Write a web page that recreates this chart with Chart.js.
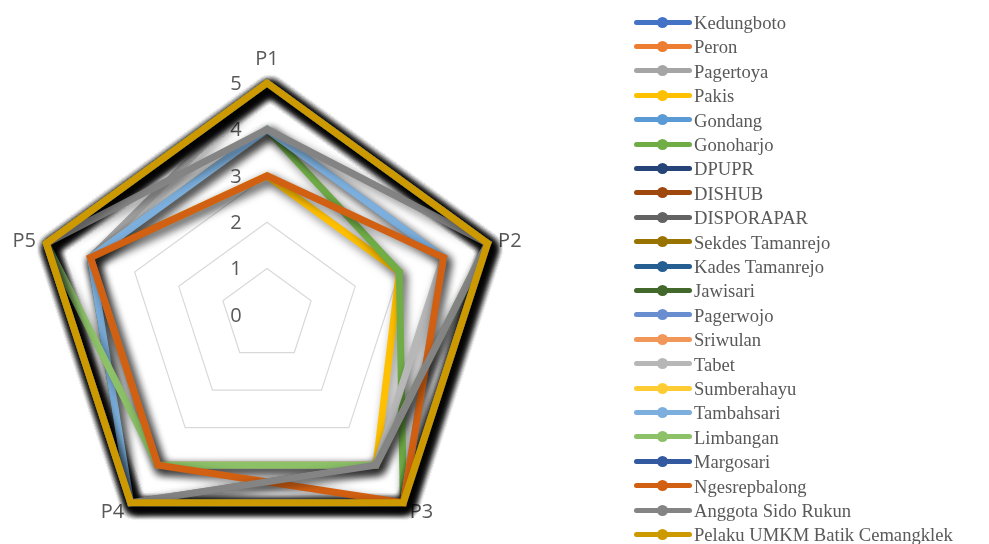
<!DOCTYPE html>
<html>
<head>
<meta charset="utf-8">
<script src="https://cdn.jsdelivr.net/npm/chart.js@4.4.1/dist/chart.umd.min.js"></script>
<style>
  html, body { margin: 0; padding: 0; width: 989px; height: 544px; overflow: hidden; background: #ffffff; }
  #radar { position: absolute; left: 0; top: 0; }
  #legend { position: absolute; left: 0; top: 0; width: 989px; height: 544px; }
  .item { position: absolute; left: 634px; height: 24px; white-space: nowrap;
          font-family: "Liberation Serif", "Times New Roman", serif; font-size: 18.6px; color: #595959; }
  .swatch { position: absolute; left: 0; top: 9.5px; width: 58px; height: 5px; border-radius: 3px; }
  .dot { position: absolute; left: 23px; top: 6.5px; width: 11px; height: 11px; border-radius: 50%; }
  .name { position: absolute; left: 60px; top: 1px; line-height: 24px; }
</style>
</head>
<body>
<canvas id="radar" width="989" height="640"></canvas>
<div id="legend"></div>
<script>
// Axes of the radar and the scale's tick labels
const categories = ['P1', 'P2', 'P3', 'P4', 'P5'];
const tickLabels = ['0', '1', '2', '3', '4', '5'];

// Scores per respondent group, in the order P1..P5
const kedungboto   = [5, 5, 5, 5, 5];
const peron        = [5, 5, 5, 5, 5];
const pagertoya    = [5, 5, 4, 5, 4];
const pakis        = [3, 3, 4, 4, 4];
const gondang      = [5, 5, 5, 5, 5];
const gonoharjo    = [4, 3, 5, 5, 4];
const dpupr        = [5, 5, 5, 5, 5];
const dishub       = [5, 5, 5, 5, 5];
const disporapar   = [5, 5, 5, 5, 5];
const sekdes       = [5, 5, 5, 5, 5];
const kades        = [5, 5, 5, 5, 5];
const jawisari     = [5, 5, 5, 5, 5];
const pagerwojo    = [5, 5, 5, 5, 5];
const sriwulan     = [5, 5, 5, 5, 5];
const tabet        = [4, 4, 4, 4, 4];
const sumberahayu  = [5, 5, 5, 5, 5];
const tambahsari   = [4, 4, 5, 5, 4];
const limbangan    = [5, 5, 4, 4, 5];
const margosari    = [5, 5, 5, 5, 5];
const ngesrepbalong = [3, 4, 5, 4, 4];
const anggotaSidoRukun = [4, 5, 4, 5, 5];
const pelakuUmkm   = [5, 5, 5, 5, 5];

const seriesNames = [
  'Kedungboto', 'Peron', 'Pagertoya', 'Pakis', 'Gondang', 'Gonoharjo',
  'DPUPR', 'DISHUB', 'DISPORAPAR', 'Sekdes Tamanrejo', 'Kades Tamanrejo',
  'Jawisari', 'Pagerwojo', 'Sriwulan', 'Tabet', 'Sumberahayu', 'Tambahsari',
  'Limbangan', 'Margosari', 'Ngesrepbalong', 'Anggota Sido Rukun',
  'Pelaku UMKM Batik Cemangklek'
];
const seriesValues = [
  kedungboto, peron, pagertoya, pakis, gondang, gonoharjo,
  dpupr, dishub, disporapar, sekdes, kades,
  jawisari, pagerwojo, sriwulan, tabet, sumberahayu, tambahsari,
  limbangan, margosari, ngesrepbalong, anggotaSidoRukun, pelakuUmkm
];
const seriesColors = [
  '#4472C4', '#ED7D31', '#A5A5A5', '#FFC000', '#5B9BD5', '#70AD47',
  '#264478', '#9E480E', '#636363', '#997300', '#255E91',
  '#43682B', '#698ED0', '#F1975A', '#B7B7B7', '#FFCD33', '#7CAFDD',
  '#8CC168', '#335AA1', '#D26012', '#848484', '#CC9A00'
];

const labelColor = '#595959';

// Soft drop shadow under every series line
const lineShadow = {
  id: 'lineShadow',
  beforeDatasetDraw(chart) {
    const c = chart.ctx;
    c.save();
    c.shadowColor = 'rgba(0,0,0,0.5)';
    c.shadowBlur = 10;
    c.shadowOffsetX = 3;
    c.shadowOffsetY = 4;
  },
  afterDatasetDraw(chart) {
    chart.ctx.restore();
  }
};

// Tick numbers along the P1 spoke and the category names at the corners
const axisText = {
  id: 'axisText',
  beforeDatasetsDraw(chart) {
    const s = chart.scales.r;
    const c = chart.ctx;
    c.save();
    c.fillStyle = labelColor;
    c.font = '20px "Open Sans"';
    c.textBaseline = 'middle';
    c.textAlign = 'center';
    tickLabels.forEach(t => {
      const d = s.getDistanceFromCenterForValue(Number(t));
      c.fillText(t, s.xCenter - 31, s.yCenter - d + 1);
    });
    categories.forEach((lab, i) => {
      const p = s.getPointPosition(i, s.drawingArea);
      const a = s.getIndexAngle(i) - Math.PI / 2;
      const cx = Math.cos(a), cy = Math.sin(a);
      const half = c.measureText(lab).width / 2;
      let x = p.x + cx * 11, y = p.y + cy * 11 + 1;
      if (Math.abs(cx) < 0.1) {
        y -= 14;
      } else {
        x += Math.sign(cx) * half;
      }
      c.fillText(lab, x, y);
    });
    c.restore();
  }
};

const datasets = seriesNames.map((name, i) => ({
  label: name,
  data: seriesValues[i],
  borderColor: seriesColors[i],
  backgroundColor: seriesColors[i],
  borderWidth: 7,
  borderJoinStyle: 'miter',
  fill: false,
  pointRadius: 0,
  pointHoverRadius: 0,
  order: seriesNames.length - 1 - i
}));

new Chart(document.getElementById('radar'), {
  type: 'radar',
  data: { labels: categories, datasets },
  options: {
    responsive: false,
    animation: false,
    devicePixelRatio: 1,
    layout: { padding: { left: 35, right: 490, top: 83, bottom: 93 } },
    elements: { line: { tension: 0 } },
    plugins: { legend: { display: false }, tooltip: { enabled: false } },
    scales: {
      r: {
        min: 0,
        max: 5,
        ticks: { display: false, stepSize: 1 },
        pointLabels: { display: false },
        angleLines: { display: false },
        grid: { color: '#D9D9D9', lineWidth: 1.2 }
      }
    }
  },
  plugins: [lineShadow, axisText]
});

// Series key on the right
const legend = document.getElementById('legend');
seriesNames.forEach((name, i) => {
  const row = document.createElement('div');
  row.className = 'item';
  row.style.top = (10 + i * 24.4) + 'px';
  const sw = document.createElement('span');
  sw.className = 'swatch';
  sw.style.background = seriesColors[i];
  const dot = document.createElement('span');
  dot.className = 'dot';
  dot.style.background = seriesColors[i];
  const tx = document.createElement('span');
  tx.className = 'name';
  tx.textContent = name;
  row.appendChild(sw);
  row.appendChild(dot);
  row.appendChild(tx);
  legend.appendChild(row);
});
</script>
</body>
</html>
